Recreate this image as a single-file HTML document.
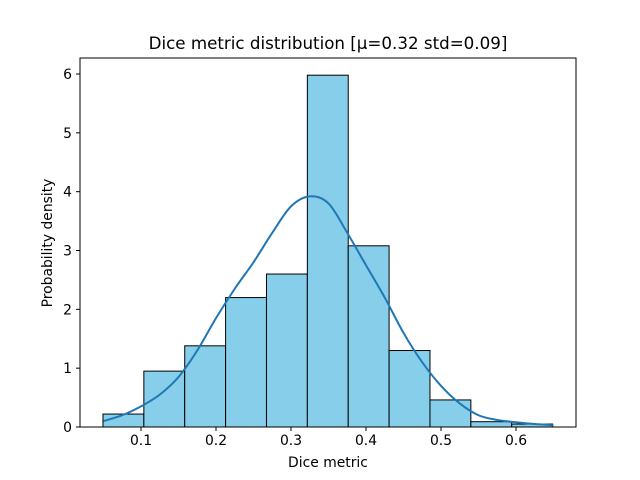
<!DOCTYPE html>
<html><head><meta charset="utf-8">
<style>
body{margin:0;background:#fff;}
svg{display:block;font-family:"DejaVu Sans","Liberation Sans",sans-serif;}
</style></head>
<body>
<svg id="chart" width="640" height="480" viewBox="0 0 640 480">
<rect width="640" height="480" fill="#fff"/>
<text x="328" y="49" text-anchor="middle" font-size="16.7">Dice metric distribution [μ=0.32 std=0.09]</text>
<g id="bars"></g>
<g id="kde"></g>
<g id="axes"></g>
<text x="328" y="467" text-anchor="middle" font-size="13.9">Dice metric</text>
<text transform="translate(52,243) rotate(-90)" text-anchor="middle" font-size="13.9">Probability density</text>
</svg>
<script>
const binStart = 0.0493;
const binWidth = 0.0545;
const densities = [0.22, 0.95, 1.38, 2.2, 2.6, 5.98, 3.08, 1.3, 0.46, 0.09, 0.05];
const kdeX = [0.05,0.075,0.1,0.125,0.15,0.175,0.2,0.225,0.25,0.275,0.3,0.325,0.35,0.375,0.4,0.425,0.45,0.475,0.5,0.525,0.55,0.575,0.6,0.625,0.65];
const kdeY = [0.1,0.2,0.35,0.55,0.85,1.3,1.85,2.35,2.8,3.3,3.75,3.92,3.8,3.3,2.75,2.2,1.6,1.1,0.7,0.4,0.2,0.12,0.08,0.05,0.03];
const xTicks = [0.1,0.2,0.3,0.4,0.5,0.6];
const yTicks = [0,1,2,3,4,5,6];

const NS="http://www.w3.org/2000/svg";
const L=80,R=576,T=58,B=427;
const xs=v=>66+v*750;
const ys=v=>427-v*58.83;
function mk(tag,attrs,parent){const e=document.createElementNS(NS,tag);for(const k in attrs)e.setAttribute(k,attrs[k]);parent.appendChild(e);return e;}

const gb=document.getElementById('bars');
densities.forEach((d,i)=>{
  const x0=xs(binStart+i*binWidth),x1=xs(binStart+(i+1)*binWidth);
  const r=mk('rect',{x:x0,y:ys(d),width:x1-x0,height:B-ys(d),fill:'#87ceeb',stroke:'#000','stroke-width':1},gb);
  
  
});

const pts=kdeX.map((x,i)=>[xs(x),ys(kdeY[i])]);
let d='M'+pts[0][0]+','+pts[0][1];
for(let i=0;i<pts.length-1;i++){
  const p0=pts[Math.max(0,i-1)],p1=pts[i],p2=pts[i+1],p3=pts[Math.min(pts.length-1,i+2)];
  d+=' C'+(p1[0]+(p2[0]-p0[0])/6)+','+(p1[1]+(p2[1]-p0[1])/6)+' '+(p2[0]-(p3[0]-p1[0])/6)+','+(p2[1]-(p3[1]-p1[1])/6)+' '+p2[0]+','+p2[1];
}
const kp=mk('path',{d:d,fill:'none',stroke:'#1f77b4','stroke-width':2},document.getElementById('kde'));



const ga=document.getElementById('axes');
const fr=mk('rect',{x:L,y:T,width:R-L,height:B-T,fill:'none',stroke:'#000','stroke-width':1},ga);


xTicks.forEach(v=>{
  const x=xs(v);
  mk('line',{x1:x,x2:x,y1:B,y2:B+4,stroke:'#000'},ga);
  const t=mk('text',{x:x,y:B+18,'text-anchor':'middle','font-size':13.9},ga);
  t.textContent=v.toFixed(1);
  
  
});
yTicks.forEach(v=>{
  const y=ys(v);
  mk('line',{x1:L-4,x2:L,y1:y,y2:y,stroke:'#000'},ga);
  const t=mk('text',{x:L-8,y:y+5,'text-anchor':'end','font-size':13.9},ga);
  t.textContent=v;
  
  
});
</script>
</body></html>
